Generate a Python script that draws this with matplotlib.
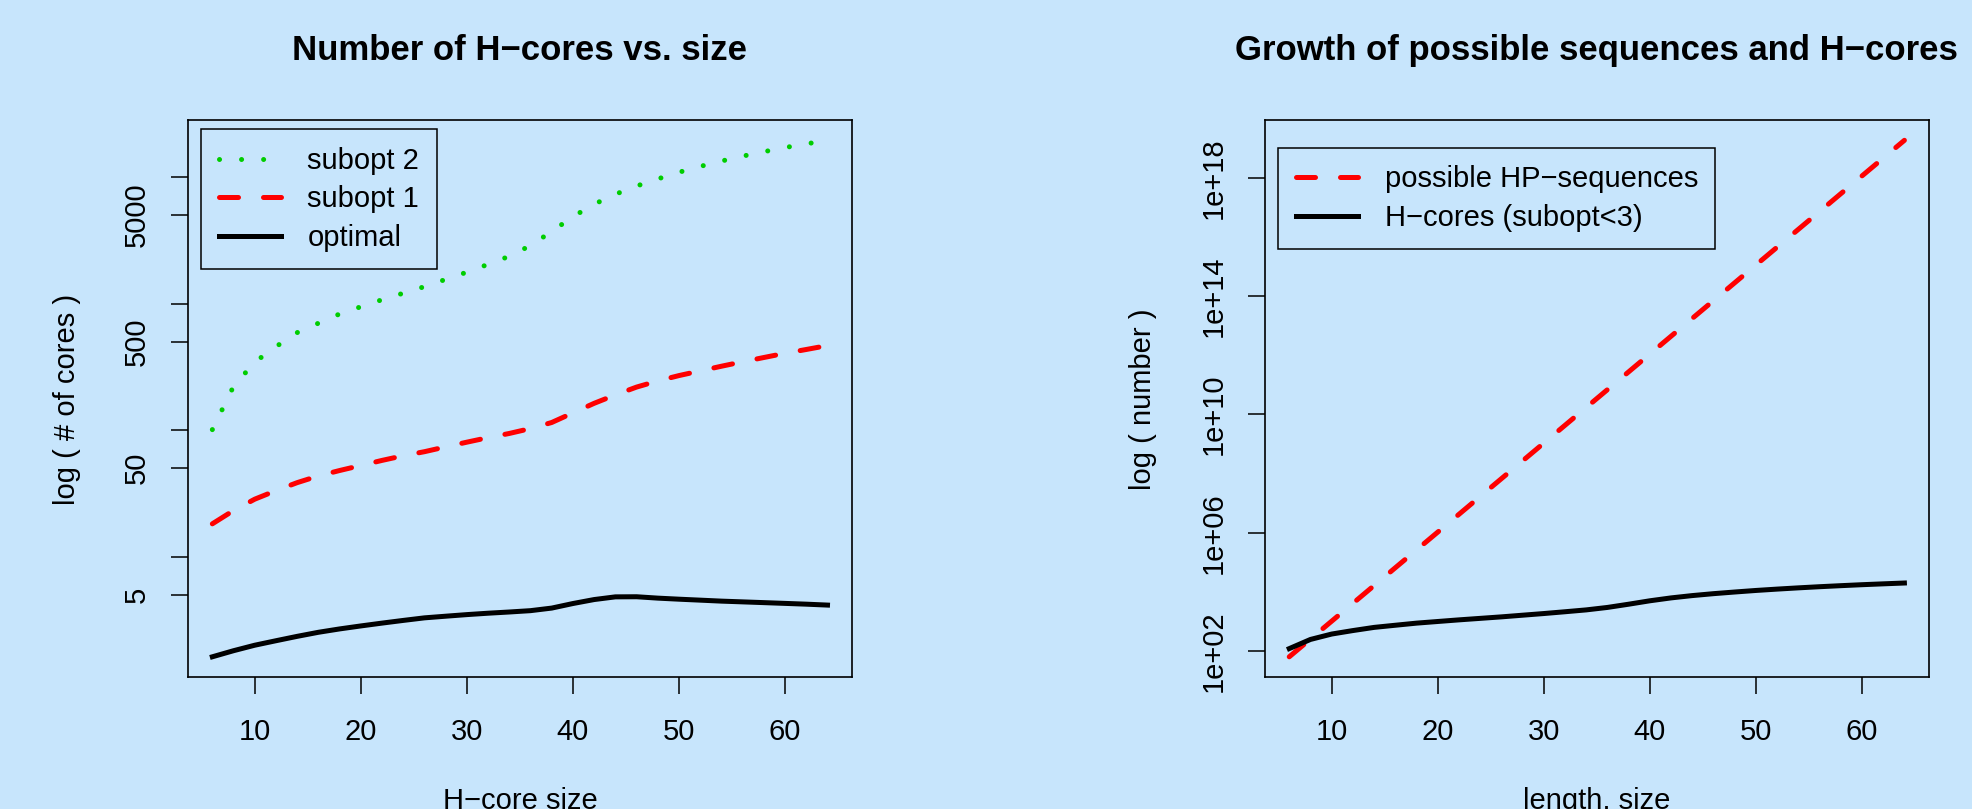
import numpy as np
import matplotlib
matplotlib.use("Agg")
import matplotlib.pyplot as plt
from matplotlib.ticker import FixedLocator, FixedFormatter, NullLocator

plt.rcParams['font.family'] = ['Liberation Sans', 'DejaVu Sans']

# H-core size
sizes = [6, 8, 10, 12, 14, 16, 18, 20, 22, 24, 26, 28, 30, 32, 34, 36,
         38, 40, 42, 44, 46, 48, 50, 52, 54, 56, 58, 60, 62, 64]
optimal = [1.62, 1.81, 2.0, 2.17, 2.35, 2.53, 2.69, 2.84, 2.99, 3.14, 3.29, 3.39,
           3.49, 3.58, 3.66, 3.75, 3.93, 4.27, 4.59, 4.82, 4.83, 4.71, 4.62, 4.54,
           4.46, 4.40, 4.34, 4.28, 4.22, 4.15]
subopt1 = [18.2, 23.2, 28.5, 33.3, 38.5, 43.5, 48, 52.6, 57.7, 62.8, 67.6, 73.8,
           80.4, 87.3, 94.2, 103, 115, 137, 163, 190, 219, 245, 270, 294,
           320, 347, 375, 405, 434, 466]
subopt2 = [101, 222, 345, 457, 590, 700, 828, 944, 1073, 1208, 1361, 1553,
           1771, 2042, 2366, 2877, 3715, 4864, 6100, 7310, 8490, 9660, 10910, 12130,
           13370, 14620, 15850, 17100, 18280, 19500]

# growth plot
hcores = [121, 247, 376, 493, 631, 746, 879, 999, 1134, 1274, 1432, 1630,
          1855, 2133, 2464, 2984, 3834, 5005, 6268, 7505, 8714, 9910, 11185, 12429,
          13694, 14971, 16229, 17509, 18718, 19970]
hp_len = [6, 16, 32, 48, 64]
hp_seqs = [64, 65536, 4.29e9, 2.81e14, 1.84e19]

left_ticks = [5, 10, 50, 100, 500, 1000, 5000, 10000]
left_labels = ["5", "", "50", "", "500", "", "5000", ""]
right_ticks = [1e2, 1e6, 1e10, 1e14, 1e18]
right_labels = ["1e+02", "1e+06", "1e+10", "1e+14", "1e+18"]

bg = '#C7E5FC'
fs = 21

fig = plt.figure(figsize=(19.72, 8.09), dpi=100, facecolor=bg)
ax1 = fig.add_axes([0.0952, 0.1626, 0.3369, 0.6895], facecolor=bg)
ax2 = fig.add_axes([0.6413, 0.1626, 0.3369, 0.6895], facecolor=bg)


def r_lims(lo, hi):
    r = hi - lo
    return lo - 0.04 * r, hi + 0.04 * r


def style(ax, ticks, labels):
    ax.set_yscale('log')
    ax.yaxis.set_major_locator(FixedLocator(ticks))
    ax.yaxis.set_major_formatter(FixedFormatter(labels))
    ax.yaxis.set_minor_locator(NullLocator())
    ax.set_xticks([10, 20, 30, 40, 50, 60])
    ax.set_xlim(*r_lims(min(sizes), max(sizes)))
    for s in ax.spines.values():
        s.set_linewidth(1.2)
    ax.tick_params(axis='both', direction='out', length=12.5, width=1.1,
                   labelsize=fs, color='black')
    ax.tick_params(axis='x', pad=17)
    ax.tick_params(axis='y', pad=14, labelrotation=90)
    for lab in ax.get_yticklabels():
        lab.set_va('center')


def legend(ax, anchor):
    leg = ax.legend(loc='upper left', bbox_to_anchor=anchor, borderaxespad=0,
                    fontsize=fs, handlelength=2.15, handletextpad=0.9, borderpad=0.6,
                    labelspacing=0.36, fancybox=False, edgecolor='black', facecolor=bg,
                    framealpha=1)
    leg.get_frame().set_linewidth(1.1)


# left panel
ax1.plot(sizes, subopt2, color='#00CD00', lw=3.6, linestyle=(0, (0.01, 4.4)),
         dash_capstyle='round', label='subopt 2')
ax1.plot(sizes, subopt1, color='red', lw=3.6, linestyle=(0, (3.8, 5.0)),
         dash_capstyle='round', label='subopt 1')
ax1.plot(sizes, optimal, color='black', lw=3.6, label='optimal')
style(ax1, left_ticks, left_labels)
lo, hi = r_lims(np.log10(min(optimal)), np.log10(max(subopt2)))
ax1.set_ylim(10 ** lo, 10 ** hi)
ax1.set_title('Number of H\u2212cores vs. size', fontsize=25, fontweight='bold', pad=43)
legend(ax1, (0.020, 0.9824))

# right panel
ax2.plot(hp_len, hp_seqs, color='red', lw=3.6, linestyle=(0, (3.8, 5.0)),
         dash_capstyle='round', label='possible HP\u2212sequences')
ax2.plot(sizes, hcores, color='black', lw=3.6, label='H\u2212cores (subopt<3)')
style(ax2, right_ticks, right_labels)
lo, hi = r_lims(np.log10(min(hp_seqs)), np.log10(max(hp_seqs)))
ax2.set_ylim(10 ** lo, 10 ** hi)
ax2.set_title('Growth of possible sequences and H\u2212cores', fontsize=25,
              fontweight='bold', pad=43)
legend(ax2, (0.0202, 0.9493))

# axis labels (x labels sit at the very bottom edge, as in the original)
fig.text(66.6 / 1972, 0.5066, 'log ( # of cores )', rotation=90, fontsize=fs,
         ha='center', va='center')
fig.text(1143 / 1972, 0.5066, 'log ( number )', rotation=90, fontsize=fs,
         ha='center', va='center')
fig.text(520 / 1972, 0.0, 'H\u2212core size', fontsize=fs, ha='center', va='baseline')
fig.text(1597 / 1972, 0.0, 'length, size', fontsize=fs, ha='center', va='baseline')

fig.savefig('out.png', dpi=100, facecolor=bg)
